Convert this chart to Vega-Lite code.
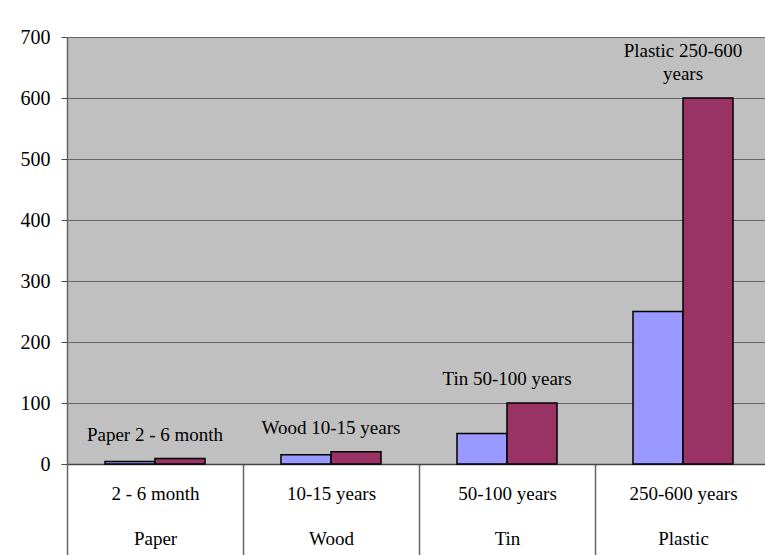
{
  "$schema": "https://vega.github.io/schema/vega-lite/v6.json",
  "width": 704,
  "height": 427,
  "autosize": "none",
  "padding": {"left": 67, "top": 37, "right": 0, "bottom": 91},
  "background": "white",
  "config": {"view": {"fill": "#C0C0C0", "stroke": null}, "font": "Liberation Serif"},
  "datasets": {
    "bars": [
      {"material": "Paper", "series": "min", "value": 4},
      {"material": "Paper", "series": "max", "value": 9},
      {"material": "Wood", "series": "min", "value": 15},
      {"material": "Wood", "series": "max", "value": 20},
      {"material": "Tin", "series": "min", "value": 50},
      {"material": "Tin", "series": "max", "value": 100},
      {"material": "Plastic", "series": "min", "value": 250},
      {"material": "Plastic", "series": "max", "value": 600}
    ],
    "labels": [
      {"material": "Paper", "value": 9, "line": "last", "label": "Paper 2 - 6 month"},
      {"material": "Wood", "value": 20, "line": "last", "label": "Wood 10-15 years"},
      {"material": "Tin", "value": 100, "line": "last", "label": "Tin 50-100 years"},
      {"material": "Plastic", "value": 600, "line": "first", "label": "Plastic 250-600"},
      {"material": "Plastic", "value": 600, "line": "last", "label": "years"}
    ]
  },
  "layer": [
    {
      "data": {"name": "bars"},
      "mark": {"type": "bar", "stroke": "black", "strokeWidth": 1.5},
      "encoding": {
        "x": {
          "field": "material", "type": "nominal",
          "sort": ["Paper", "Wood", "Tin", "Plastic"],
          "scale": {"paddingInner": 0, "paddingOuter": 0},
          "axis": {
            "title": null, "orient": "bottom", "grid": false,
            "tickBand": "extent", "tickSize": 91, "tickColor": "#666", "tickWidth": 1.5,
            "domainColor": "#444", "domainWidth": 1.5,
            "labelFontSize": 19, "labelColor": "black", "labelAngle": 0,
            "labelPadding": -71, "labelBaseline": "top", "labelLineHeight": 45,
            "labelExpr": "[{'Paper':'2 - 6 month','Wood':'10-15 years','Tin':'50-100 years','Plastic':'250-600 years'}[datum.label], datum.label]"
          }
        },
        "xOffset": {
          "field": "series", "type": "nominal", "sort": ["min", "max"],
          "scale": {"paddingOuter": 0.76, "paddingInner": 0}
        },
        "y": {
          "field": "value", "type": "quantitative",
          "scale": {"domain": [0, 700], "nice": false},
          "axis": {
            "title": null, "values": [0, 100, 200, 300, 400, 500, 600, 700],
            "tickSize": 6, "tickColor": "#444", "domainColor": "#666", "domainWidth": 1.5,
            "labelFontSize": 20, "labelColor": "black", "labelPadding": 11,
            "grid": true, "gridColor": "#666", "gridWidth": 1.2
          }
        },
        "color": {
          "field": "series", "type": "nominal",
          "scale": {"domain": ["min", "max"], "range": ["#9999FF", "#993366"]},
          "legend": null
        }
      }
    },
    {
      "data": {"name": "labels"},
      "transform": [{"filter": "datum.line === 'last'"}],
      "mark": {"type": "text", "fontSize": 19, "dy": -14, "baseline": "bottom", "font": "Liberation Serif", "color": "black"},
      "encoding": {
        "x": {"field": "material", "type": "nominal", "sort": ["Paper", "Wood", "Tin", "Plastic"]},
        "y": {"field": "value", "type": "quantitative"},
        "text": {"field": "label"}
      }
    },
    {
      "data": {"name": "labels"},
      "transform": [{"filter": "datum.line === 'first'"}],
      "mark": {"type": "text", "fontSize": 19, "dy": -37, "baseline": "bottom", "font": "Liberation Serif", "color": "black"},
      "encoding": {
        "x": {"field": "material", "type": "nominal", "sort": ["Paper", "Wood", "Tin", "Plastic"]},
        "y": {"field": "value", "type": "quantitative"},
        "text": {"field": "label"}
      }
    }
  ]
}
